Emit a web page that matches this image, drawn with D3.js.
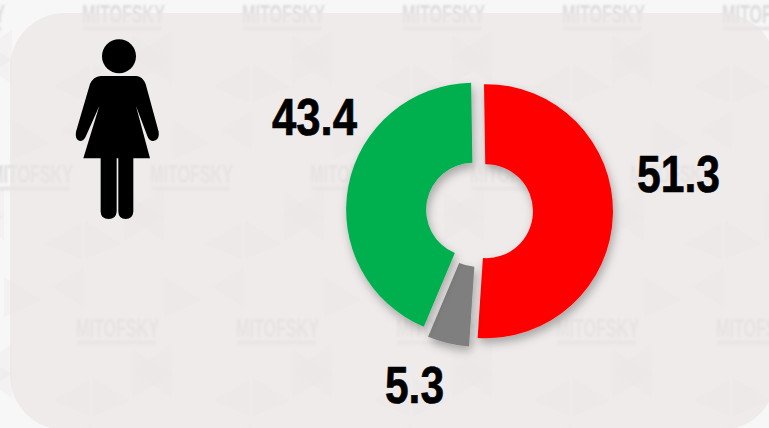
<!DOCTYPE html>
<html lang="en">

<head>
  <meta charset="utf-8">
  <title>Donut</title>
  <script src="https://d3js.org/d3.v7.min.js"></script>
  <style>
    html, body {
      margin: 0;
      padding: 0;
      background: #f8f7f7;
      overflow: hidden;
    }

    svg {
      display: block;
    }

    .value {
      font-family: 'Liberation Sans', Arial, sans-serif;
      font-weight: bold;
      font-size: 52px;
      fill: #000;
      stroke: #000;
      stroke-width: 0.7px;
    }

    .mark {
      font-family: 'Liberation Sans Narrow', 'Liberation Sans', Arial, sans-serif;
      font-weight: bold;
      font-size: 26px;
      fill: #dedcdc;
    }
  </style>
</head>

<body>

<div id="chart"></div>

<script>
  // Values, clockwise from the top
  var sliceValues = [51.3, 5.3, 43.4];
  var sliceLabels = ["51.3", "5.3", "43.4"];
  var sliceColors = ["#ff0000", "#7f7f7f", "#00b050"];

  var width = 769,
      height = 428;

  // Layout of the donut
  var cx = 479.5,
      cy = 211,
      outerR = 127,
      innerR = 47,
      explode = [6.5, 9, 6.5],
      labelPos = [[637, 192, 83], [385, 403, 59], [272, 135, 85]];

  var svg = d3.select("#chart")
      .append("svg")
      .attr("width", width)
      .attr("height", height);

  var defs = svg.append("defs");

  defs.append("filter")
      .attr("id", "shadow")
      .attr("x", "-20%").attr("y", "-20%")
      .attr("width", "140%").attr("height", "140%")
      .append("feDropShadow")
      .attr("dx", 2).attr("dy", 5)
      .attr("stdDeviation", 5)
      .attr("flood-color", "#000")
      .attr("flood-opacity", 0.3);

  defs.append("filter")
      .attr("id", "soft")
      .append("feGaussianBlur")
      .attr("stdDeviation", 0.8);

  // Background: faint triangles repeated every 160px
  var bg = svg.append("g");
  var tris = [
    [[53, 87], [90, 65], [90, 102]],
    [[93, 63], [130, 87], [93, 102]],
    [[12, 30], [12, 84], [-28, 57]],
    [[132, 35], [132, 84], [172, 60]],
    [[12, 120], [50, 143], [12, 160]],
    [[92, 110], [92, 150], [60, 130]]
  ];
  d3.range(-1, 5).forEach(function (col) {
    d3.range(0, 3).forEach(function (row) {
      bg.append("g")
          .attr("transform", "translate(" + (col * 160 + (row === 1 ? -8 : 0)) + "," + (row * 157) + ")")
          .selectAll("path")
          .data(tris)
          .enter()
          .append("path")
          .attr("d", function (d) { return "M" + d.join("L") + "Z"; })
          .attr("fill", "#e2dfdf")
          .attr("opacity", 0.22);
    });
  });

  // Watermark rows
  var marks = svg.append("g").attr("filter", "url(#soft)");
  [[82, 23, 5], [150, 183, 5], [76, 337, 5]].forEach(function (row) {
    d3.range(-1, row[2]).forEach(function (i) {
      var x = row[0] + i * 160;
      marks.append("text")
          .attr("class", "mark")
          .attr("x", x)
          .attr("y", row[1])
          .attr("textLength", 83)
          .attr("lengthAdjust", "spacingAndGlyphs")
          .text("MITOFSKY");
      marks.append("line")
          .attr("x1", x + 2).attr("x2", x + 79)
          .attr("y1", row[1] + 5.5).attr("y2", row[1] + 5.5)
          .attr("stroke", "#dedcdc")
          .attr("stroke-width", 4)
          .attr("stroke-dasharray", "2 1");
    });
  });

  // Rounded panel sits over the pattern
  svg.append("rect")
      .attr("x", 10)
      .attr("y", 13)
      .attr("width", 766)
      .attr("height", 417)
      .attr("rx", 55)
      .attr("fill", "#ebe6e6")
      .attr("opacity", 0.7);

  // Figure icon, drawn on a 3x grid
  var icon = svg.append("g")
      .attr("transform", "scale(0.3333)")
      .attr("fill", "#000");

  icon.append("circle")
      .attr("cx", 357)
      .attr("cy", 169)
      .attr("r", 51);

  icon.append("path")
      .attr("d", "M302,228 L410,228 Q428,230 437,252 L476,395 Q480,420 460,423 Q447,423 442,408 L408,318 " +
          "L450,475 L400,475 L400,635 Q398,657 377,657 Q356,657 355,635 L355,475 L350,475 L350,635 " +
          "Q348,657 326,657 Q303,657 302,635 L302,475 L250,475 L298,318 L258,408 Q252,423 240,423 " +
          "Q224,420 228,395 L270,252 Q280,230 302,228 Z");

  // Donut
  var pie = d3.pie()
      .sort(null)
      .startAngle(-0.9 * Math.PI / 180)
      .endAngle(359.1 * Math.PI / 180);

  var arc = d3.arc()
      .innerRadius(innerR)
      .outerRadius(outerR);

  svg.append("g")
      .attr("transform", "translate(" + cx + "," + cy + ")")
      .selectAll("path")
      .data(pie(sliceValues))
      .enter()
      .append("path")
      .attr("d", arc)
      .attr("fill", function (d, i) { return sliceColors[i]; })
      .attr("filter", "url(#shadow)")
      .attr("transform", function (d, i) {
        var mid = (d.startAngle + d.endAngle) / 2;
        return "translate(" + (Math.sin(mid) * explode[i]) + "," + (-Math.cos(mid) * explode[i]) + ")";
      });

  // Value labels
  svg.selectAll(".value")
      .data(sliceLabels)
      .enter()
      .append("text")
      .attr("class", "value")
      .attr("x", function (d, i) { return labelPos[i][0]; })
      .attr("y", function (d, i) { return labelPos[i][1]; })
      .attr("textLength", function (d, i) { return labelPos[i][2]; })
      .attr("lengthAdjust", "spacingAndGlyphs")
      .text(function (d) { return d; });
</script>

</body>

</html>
